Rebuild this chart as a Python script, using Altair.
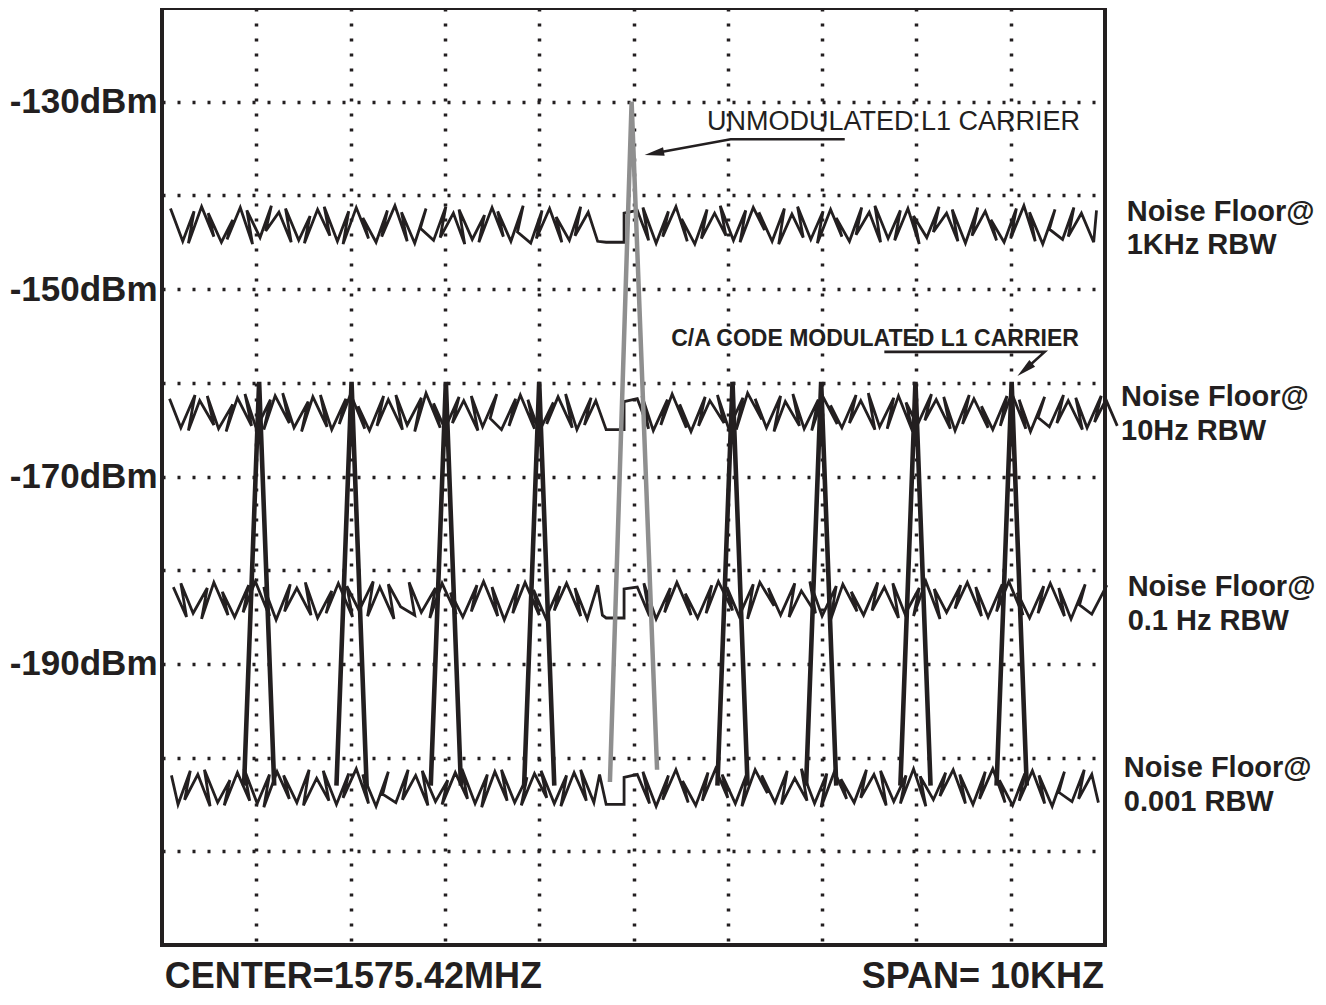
import altair as alt
import pandas as pd

FONT = "Liberation Sans"
INK = "#231f20"

# axes: frequency offset from 1575.42 MHz in kHz (span 10 kHz), level in dBm
X_DOMAIN = [-5, 5]
Y_DOMAIN = [-220, -120]
X_GRID = [-4, -3, -2, -1, 0, 1, 2, 3, 4]
Y_GRID = [-210, -200, -190, -180, -170, -160, -150, -140, -130]
Y_LABELED = [-130, -150, -170, -190]

NOISE_1KHZ = [(-4.91,-141.4),(-4.78,-144.9),(-4.66,-141.7),(-4.72,-145.1),(-4.58,-141.2),(-4.45,-144.4),(-4.51,-141.9),(-4.37,-145.0),(-4.25,-142.6),(-4.31,-144.7),(-4.17,-141.3),(-4.04,-145.2),(-4.10,-141.6),(-3.96,-144.5),(-3.84,-141.1),(-3.90,-143.8),(-3.76,-141.8),(-3.63,-145.0),(-3.69,-141.4),(-3.55,-144.8),(-3.43,-142.2),(-3.49,-145.1),(-3.35,-141.5),(-3.22,-144.3),(-3.28,-141.2),(-3.14,-144.9),(-3.02,-141.7),(-3.08,-145.2),(-2.94,-141.3),(-2.81,-144.6),(-2.87,-142.4),(-2.73,-145.0),(-2.61,-141.6),(-2.67,-144.4),(-2.53,-141.1),(-2.40,-144.9),(-2.46,-141.8),(-2.32,-145.1),(-2.20,-141.4),(-2.26,-143.5),(-2.12,-144.8),(-1.99,-141.2),(-2.05,-144.5),(-1.91,-141.9),(-1.79,-145.2),(-1.85,-141.5),(-1.71,-144.7),(-1.58,-142.1),(-1.64,-145.0),(-1.50,-141.3),(-1.38,-144.4),(-1.44,-141.7),(-1.30,-144.9),(-1.17,-141.1),(-1.23,-143.9),(-1.09,-145.1),(-0.97,-141.6),(-1.03,-144.6),(-0.89,-141.4),(-0.76,-145.0),(-0.82,-142.3),(-0.68,-144.8),(-0.56,-141.2),(-0.62,-144.3),(-0.48,-141.8),(-0.38,-144.9),(-0.29,-145.0),(-0.10,-145.0),(-0.10,-141.9),(0.04,-141.6),(0.16,-144.8),(0.10,-141.3),(0.24,-145.1),(0.37,-141.7),(0.31,-144.4),(0.45,-141.2),(0.57,-144.9),(0.51,-142.5),(0.65,-145.2),(0.78,-141.5),(0.72,-144.6),(0.86,-141.9),(0.98,-144.3),(0.92,-141.1),(1.06,-144.8),(1.19,-141.6),(1.13,-145.0),(1.27,-141.3),(1.39,-143.7),(1.33,-141.8),(1.47,-144.9),(1.60,-141.4),(1.54,-145.2),(1.68,-142.0),(1.80,-144.5),(1.74,-141.2),(1.88,-144.7),(2.01,-141.7),(1.95,-145.1),(2.09,-141.5),(2.21,-144.4),(2.15,-142.4),(2.29,-144.9),(2.42,-141.3),(2.36,-144.2),(2.50,-141.8),(2.62,-145.0),(2.56,-141.1),(2.70,-144.6),(2.83,-141.6),(2.77,-144.8),(2.91,-141.4),(3.03,-145.2),(2.97,-142.2),(3.11,-144.5),(3.24,-141.2),(3.18,-143.9),(3.32,-141.9),(3.44,-144.9),(3.38,-141.5),(3.52,-145.1),(3.65,-141.3),(3.59,-144.3),(3.73,-141.7),(3.85,-144.8),(3.79,-142.6),(3.93,-145.0),(4.06,-141.4),(4.00,-144.6),(4.14,-141.1),(4.26,-144.9),(4.20,-141.8),(4.34,-145.2),(4.47,-141.5),(4.41,-143.6),(4.55,-144.7),(4.67,-141.3),(4.61,-144.4),(4.75,-141.9),(4.88,-145.0),(4.91,-141.6)]

NOISE_10HZ = [(-4.92,-161.7),(-4.80,-164.8),(-4.65,-161.3),(-4.72,-165.1),(-4.60,-161.9),(-4.45,-164.5),(-4.52,-161.4),(-4.40,-164.9),(-4.25,-162.3),(-4.32,-165.2),(-4.20,-161.6),(-4.05,-164.6),(-4.12,-161.2),(-4.00,-164.9),(-3.85,-161.8),(-3.92,-165.0),(-3.80,-161.4),(-3.65,-164.3),(-3.72,-161.1),(-3.60,-164.8),(-3.45,-162.0),(-3.52,-165.2),(-3.40,-161.5),(-3.25,-164.7),(-3.32,-161.3),(-3.20,-165.0),(-3.05,-161.7),(-3.12,-164.4),(-3.00,-161.2),(-2.85,-164.9),(-2.92,-162.5),(-2.80,-165.1),(-2.65,-161.4),(-2.72,-164.6),(-2.60,-161.8),(-2.45,-165.0),(-2.52,-161.3),(-2.40,-164.5),(-2.25,-161.6),(-2.32,-165.2),(-2.20,-161.1),(-2.05,-164.8),(-2.12,-162.2),(-2.00,-164.9),(-1.85,-161.5),(-1.92,-164.3),(-1.80,-161.9),(-1.65,-165.1),(-1.72,-161.4),(-1.60,-164.7),(-1.45,-161.2),(-1.52,-163.8),(-1.40,-165.0),(-1.25,-161.7),(-1.32,-164.6),(-1.20,-161.3),(-1.05,-164.9),(-1.12,-161.8),(-1.00,-165.2),(-0.85,-162.1),(-0.92,-164.4),(-0.80,-161.5),(-0.65,-164.8),(-0.72,-161.2),(-0.60,-165.0),(-0.45,-161.6),(-0.52,-164.5),(-0.40,-161.9),(-0.29,-165.0),(-0.10,-165.0),(-0.10,-162.0),(0.04,-161.7),(0.16,-164.9),(0.09,-161.4),(0.21,-165.1),(0.36,-161.8),(0.29,-164.5),(0.41,-161.2),(0.56,-164.8),(0.49,-162.3),(0.61,-165.2),(0.76,-161.5),(0.69,-164.6),(0.81,-161.9),(0.96,-164.3),(0.89,-161.3),(1.01,-164.9),(1.16,-161.6),(1.09,-165.0),(1.21,-161.1),(1.36,-163.9),(1.29,-161.7),(1.41,-164.8),(1.56,-161.4),(1.49,-165.2),(1.61,-162.0),(1.76,-164.6),(1.69,-161.2),(1.81,-164.9),(1.96,-161.8),(1.89,-165.1),(2.01,-161.5),(2.16,-164.4),(2.09,-162.4),(2.21,-164.8),(2.36,-161.3),(2.29,-164.3),(2.41,-161.9),(2.56,-165.0),(2.49,-161.1),(2.61,-164.7),(2.76,-161.6),(2.69,-164.9),(2.81,-161.4),(2.96,-165.2),(2.89,-162.1),(3.01,-164.5),(3.16,-161.2),(3.09,-164.0),(3.21,-161.8),(3.36,-164.9),(3.29,-161.5),(3.41,-165.1),(3.56,-161.3),(3.49,-164.4),(3.61,-161.7),(3.76,-164.8),(3.69,-162.5),(3.81,-165.0),(3.96,-161.4),(3.89,-164.6),(4.01,-161.1),(4.16,-164.9),(4.09,-161.8),(4.21,-165.2),(4.36,-161.5),(4.29,-163.7),(4.41,-164.7),(4.56,-161.3),(4.49,-164.3),(4.61,-161.9),(4.76,-165.0),(4.69,-161.6),(4.81,-164.8),(4.96,-161.4),(4.89,-164.2),(5.01,-161.8),(5.13,-164.6)]

NOISE_01HZ = [(-4.88,-181.8),(-4.74,-185.0),(-4.80,-181.4),(-4.67,-184.6),(-4.52,-181.9),(-4.58,-185.2),(-4.45,-181.3),(-4.30,-184.8),(-4.36,-182.3),(-4.23,-185.0),(-4.08,-181.6),(-4.14,-184.5),(-4.01,-181.2),(-3.86,-184.9),(-3.92,-181.8),(-3.79,-185.3),(-3.64,-181.5),(-3.70,-184.4),(-3.57,-181.9),(-3.42,-184.8),(-3.48,-181.3),(-3.35,-185.1),(-3.20,-182.2),(-3.26,-184.6),(-3.13,-181.4),(-2.98,-185.0),(-3.04,-181.7),(-2.91,-184.3),(-2.76,-181.2),(-2.82,-184.9),(-2.69,-181.8),(-2.54,-185.2),(-2.60,-181.5),(-2.47,-183.9),(-2.32,-184.8),(-2.38,-181.3),(-2.25,-184.5),(-2.10,-181.9),(-2.16,-185.1),(-2.03,-181.4),(-1.88,-184.7),(-1.94,-182.4),(-1.81,-185.0),(-1.66,-181.6),(-1.72,-184.4),(-1.59,-181.2),(-1.44,-184.9),(-1.50,-181.8),(-1.37,-185.3),(-1.22,-181.5),(-1.28,-184.6),(-1.15,-181.3),(-1.00,-184.8),(-1.06,-182.1),(-0.93,-185.1),(-0.78,-181.7),(-0.84,-184.3),(-0.71,-181.4),(-0.56,-184.9),(-0.62,-181.9),(-0.49,-185.2),(-0.38,-181.6),(-0.33,-184.8),(-0.29,-185.1),(-0.10,-185.1),(-0.10,-182.0),(0.04,-181.8),(0.17,-184.9),(0.11,-181.4),(0.24,-185.2),(0.39,-181.9),(0.33,-184.5),(0.46,-181.3),(0.61,-184.8),(0.55,-182.5),(0.68,-185.1),(0.83,-181.6),(0.77,-184.6),(0.90,-181.2),(1.05,-184.3),(0.99,-181.8),(1.12,-184.9),(1.27,-181.5),(1.21,-185.2),(1.34,-181.3),(1.49,-183.8),(1.43,-181.9),(1.56,-184.8),(1.71,-181.4),(1.65,-185.0),(1.78,-182.2),(1.93,-184.6),(1.87,-181.2),(2.00,-184.9),(2.15,-181.7),(2.09,-185.3),(2.22,-181.5),(2.37,-184.4),(2.31,-182.3),(2.44,-184.8),(2.59,-181.3),(2.53,-184.3),(2.66,-181.8),(2.81,-185.1),(2.75,-181.4),(2.88,-184.7),(3.03,-181.9),(2.97,-184.9),(3.10,-181.2),(3.25,-185.2),(3.19,-182.0),(3.32,-184.5),(3.47,-181.6),(3.41,-184.1),(3.54,-181.3),(3.69,-184.9),(3.63,-181.8),(3.76,-185.0),(3.91,-181.5),(3.85,-184.4),(3.98,-181.2),(4.13,-184.8),(4.07,-182.4),(4.20,-185.1),(4.35,-181.7),(4.29,-184.6),(4.42,-181.4),(4.57,-184.9),(4.51,-181.9),(4.64,-185.2),(4.79,-181.5),(4.73,-183.7),(4.86,-184.7),(5.02,-181.6)]

NOISE_0001 = [(-4.90,-201.9),(-4.83,-205.0),(-4.70,-201.4),(-4.76,-204.5),(-4.62,-201.8),(-4.49,-205.2),(-4.55,-201.3),(-4.41,-204.8),(-4.28,-202.4),(-4.34,-205.1),(-4.20,-201.6),(-4.07,-204.6),(-4.13,-201.2),(-3.99,-204.9),(-3.86,-201.8),(-3.92,-205.3),(-3.78,-201.5),(-3.65,-204.4),(-3.71,-201.9),(-3.57,-204.8),(-3.44,-201.3),(-3.50,-205.1),(-3.36,-202.2),(-3.23,-204.6),(-3.29,-201.4),(-3.15,-205.0),(-3.02,-201.7),(-3.08,-204.3),(-2.94,-201.2),(-2.81,-204.9),(-2.87,-201.8),(-2.73,-205.2),(-2.60,-201.5),(-2.66,-203.9),(-2.52,-204.8),(-2.39,-201.3),(-2.45,-204.5),(-2.31,-201.9),(-2.18,-205.1),(-2.24,-201.4),(-2.10,-204.7),(-1.97,-202.4),(-2.03,-205.0),(-1.89,-201.6),(-1.76,-204.4),(-1.82,-201.2),(-1.68,-204.9),(-1.55,-201.8),(-1.61,-205.3),(-1.47,-201.5),(-1.34,-204.6),(-1.40,-201.3),(-1.26,-204.8),(-1.13,-202.1),(-1.19,-205.1),(-1.05,-201.7),(-0.92,-204.3),(-0.98,-201.4),(-0.84,-204.9),(-0.71,-201.9),(-0.77,-205.2),(-0.63,-201.6),(-0.50,-204.6),(-0.56,-201.3),(-0.42,-204.8),(-0.36,-201.8),(-0.29,-205.0),(-0.10,-205.0),(-0.10,-202.1),(0.04,-201.8),(0.17,-204.9),(0.10,-201.5),(0.24,-205.2),(0.37,-201.9),(0.31,-204.5),(0.45,-201.3),(0.58,-204.8),(0.52,-202.5),(0.66,-205.1),(0.79,-201.6),(0.73,-204.6),(0.87,-201.2),(1.00,-204.3),(0.94,-201.8),(1.08,-204.9),(1.21,-201.5),(1.15,-205.2),(1.29,-201.3),(1.42,-203.8),(1.36,-201.9),(1.50,-204.8),(1.63,-201.4),(1.57,-205.0),(1.71,-202.2),(1.84,-204.6),(1.78,-201.2),(1.92,-204.9),(2.05,-201.7),(1.99,-205.3),(2.13,-201.5),(2.26,-204.4),(2.20,-202.3),(2.34,-204.8),(2.47,-201.3),(2.41,-204.3),(2.55,-201.8),(2.68,-205.1),(2.62,-201.4),(2.76,-204.7),(2.89,-201.9),(2.83,-204.9),(2.97,-201.2),(3.10,-205.2),(3.04,-202.0),(3.18,-204.5),(3.31,-201.6),(3.25,-204.1),(3.39,-201.3),(3.52,-204.9),(3.46,-201.8),(3.60,-205.0),(3.73,-201.5),(3.67,-204.4),(3.81,-201.2),(3.94,-204.8),(3.88,-202.4),(4.02,-205.1),(4.15,-201.7),(4.09,-204.6),(4.23,-201.4),(4.36,-204.9),(4.30,-201.9),(4.44,-205.2),(4.57,-201.5),(4.51,-203.7),(4.65,-204.7),(4.78,-201.3),(4.72,-204.4),(4.86,-201.8),(4.93,-204.8)]

# C/A code spectral lines (kHz offsets), peak and base levels (dBm)
CA_CENTERS = [-3.97, -2.99, -1.99, -1.00, 1.05, 1.99, 2.99, 4.01]
CA_PEAK_DBM = -159.9
CA_BASE_DBM = -203.0
CA_HALF_WIDTH = 0.16

# unmodulated carrier (grey)
CARRIER_X = [-0.25, -0.02, 0.25]
CARRIER_DBM = [-202.6, -130.0, -201.3]

# annotations
ANNO1_TEXT = "UNMODULATED L1 CARRIER"
ANNO1_POS = (0.78, -133.0)
ANNO1_PATH = [(2.24, -134.0), (1.03, -134.0), (0.22, -135.5)]
ANNO2_TEXT = "C/A CODE MODULATED L1 CARRIER"
ANNO2_POS = (0.40, -156.1)
ANNO2_PATH = [(2.66, -156.7), (4.36, -156.7), (4.15, -158.6)]
ARROW_HEADS = [(0.22, -135.5, 259.5), (4.15, -158.6, 229.4)]

RIGHT_LABELS = [
    ("Noise Floor@", 5.23, -142.7), ("1KHz RBW", 5.23, -146.25),
    ("Noise Floor@", 5.17, -162.5), ("10Hz RBW", 5.17, -166.1),
    ("Noise Floor@", 5.24, -182.75), ("0.1 Hz RBW", 5.24, -186.4),
    ("Noise Floor@", 5.20, -202.1), ("0.001 RBW", 5.20, -205.7),
]
BOTTOM_LABELS = [("CENTER=1575.42MHZ", -4.97, -224.6), ("SPAN= 10KHZ", 2.42, -224.6)]

# ---------------- data tables ----------------
noise_rows = []
for name, pts in [("1k", NOISE_1KHZ), ("10", NOISE_10HZ), ("0.1", NOISE_01HZ), ("0.001", NOISE_0001)]:
    for i, (f, p) in enumerate(pts):
        noise_rows.append({"trace": name, "i": i, "f": f, "p": p})
noise_df = pd.DataFrame(noise_rows)

ca_rows = []
for k, c in enumerate(CA_CENTERS):
    for i, (f, p) in enumerate([(c - CA_HALF_WIDTH, CA_BASE_DBM), (c, CA_PEAK_DBM), (c + CA_HALF_WIDTH, CA_BASE_DBM)]):
        ca_rows.append({"spike": k, "i": i, "f": f, "p": p})
ca_df = pd.DataFrame(ca_rows)

carrier_df = pd.DataFrame({"i": range(3), "f": CARRIER_X, "p": CARRIER_DBM})

path_rows = []
for k, path in enumerate([ANNO1_PATH, ANNO2_PATH]):
    for i, (f, p) in enumerate(path):
        path_rows.append({"a": k, "i": i, "f": f, "p": p})
path_df = pd.DataFrame(path_rows)
head_df = pd.DataFrame([{"f": f, "p": p, "ang": a} for f, p, a in ARROW_HEADS])

right_df = pd.DataFrame([{"t": t, "f": f, "p": p} for t, f, p in RIGHT_LABELS])
bottom_df = pd.DataFrame([{"t": t, "f": f, "p": p} for t, f, p in BOTTOM_LABELS])
anno1_df = pd.DataFrame([{"t": ANNO1_TEXT, "f": ANNO1_POS[0], "p": ANNO1_POS[1]}])
anno2_df = pd.DataFrame([{"t": ANNO2_TEXT, "f": ANNO2_POS[0], "p": ANNO2_POS[1]}])

# ---------------- scales / axes ----------------
xs = alt.Scale(domain=X_DOMAIN, nice=False, zero=False)
ys = alt.Scale(domain=Y_DOMAIN, nice=False, zero=False)
label_list = ",".join(str(v) for v in Y_LABELED)
x_axis = alt.Axis(values=X_GRID, grid=True, labels=False, ticks=False, domain=False, title=None,
                  gridColor=INK, gridDash=[3, 12], gridWidth=3.5, gridOpacity=1)
y_axis = alt.Axis(values=Y_GRID, grid=True, ticks=False, tickSize=0, domain=False, title=None,
                  gridColor=INK, gridDash=[3, 12], gridWidth=3.5, gridOpacity=1,
                  labelFont=FONT, labelFontSize=35, labelFontWeight="bold", labelColor=INK,
                  labelPadding=5, labelBaseline="middle", labelOverlap=False,
                  labelExpr=f"indexof([{label_list}], datum.value) >= 0 ? datum.value + 'dBm' : ''")

X = alt.X("f:Q", scale=xs, axis=x_axis)
Y = alt.Y("p:Q", scale=ys, axis=y_axis)

noise = alt.Chart(noise_df).mark_line(color=INK, strokeWidth=2.8, strokeJoin="miter").encode(
    x=X, y=Y, detail="trace:N", order="i:Q")
spikes = alt.Chart(ca_df).mark_line(color=INK, strokeWidth=4.6, strokeJoin="miter").encode(
    x=X, y=Y, detail="spike:N", order="i:Q")
carrier = alt.Chart(carrier_df).mark_line(color="#8f8f8f", strokeWidth=4.5, strokeJoin="miter").encode(
    x=X, y=Y, order="i:Q")
paths = alt.Chart(path_df).mark_line(color=INK, strokeWidth=2.6).encode(
    x=X, y=Y, detail="a:N", order="i:Q")
heads = alt.Chart(head_df).mark_point(shape="M0,-1L0.45,1L-0.45,1Z", filled=True, color=INK, opacity=1, size=380).encode(
    x=X, y=Y, angle=alt.Angle("ang:Q", scale=None))

anno1 = alt.Chart(anno1_df).mark_text(font=FONT, fontSize=27, color=INK, align="left", baseline="alphabetic").encode(
    x=X, y=Y, text="t:N")
anno2 = alt.Chart(anno2_df).mark_text(font=FONT, fontSize=23, fontWeight="bold", color=INK, align="left", baseline="alphabetic").encode(
    x=X, y=Y, text="t:N")
right = alt.Chart(right_df).mark_text(font=FONT, fontSize=29, fontWeight="bold", color=INK, align="left", baseline="alphabetic").encode(
    x=X, y=Y, text="t:N")
bottom = alt.Chart(bottom_df).mark_text(font=FONT, fontSize=36, fontWeight="bold", color=INK, align="left", baseline="alphabetic").encode(
    x=X, y=Y, text="t:N")

chart = alt.layer(noise, spikes, carrier, paths, heads, anno1, anno2, right, bottom).properties(
    width=943, height=937,
    padding={"left": 154, "top": 0, "right": 213, "bottom": 52},
    autosize=alt.AutoSizeParams(type="none"),
    background="white",
).configure_view(stroke=INK, strokeWidth=4)

chart.save("out.html", embed_options={"renderer": "svg", "actions": False})
